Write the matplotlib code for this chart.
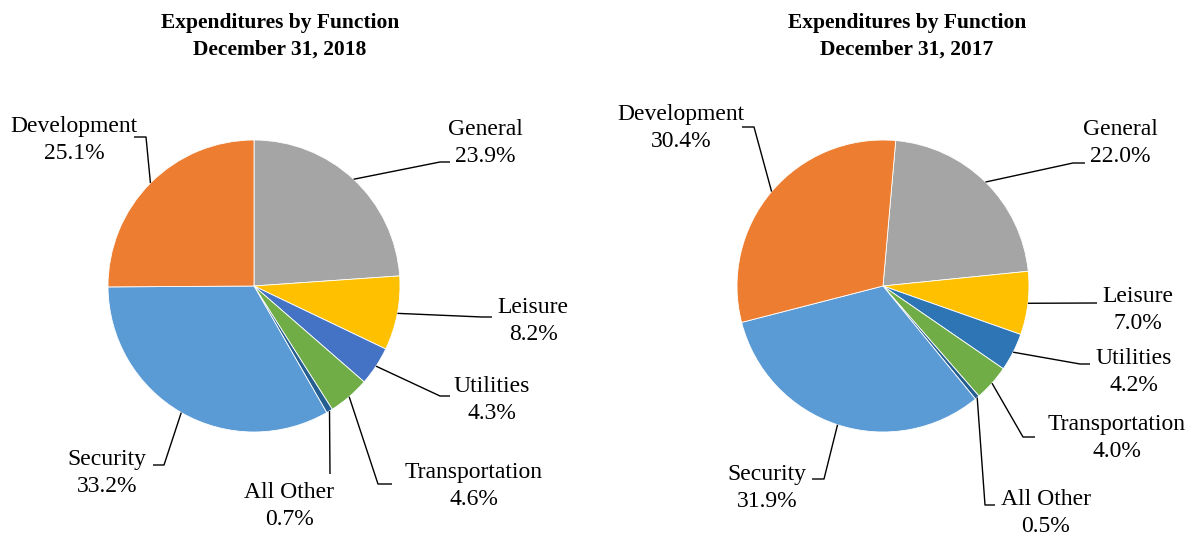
import numpy as np
import matplotlib
matplotlib.use('Agg')
from matplotlib import pyplot as plt

# data
functions = ['General', 'Leisure', 'Utilities', 'Transportation', 'All Other', 'Security', 'Development']
share_2018 = [23.9, 8.2, 4.3, 4.6, 0.7, 33.2, 25.1]
share_2017 = [22.0, 7.0, 4.2, 4.0, 0.5, 31.9, 30.4]
titles = ['Expenditures by Function\nDecember 31, 2018', 'Expenditures by Function\nDecember 31, 2017']

colors_2018 = ['#A5A5A5', '#FFC000', '#4472C4', '#70AD47', '#255E91', '#5B9BD5', '#ED7D31']
colors_2017 = ['#A5A5A5', '#FFC000', '#2E75B6', '#70AD47', '#255E91', '#5B9BD5', '#ED7D31']

W, H = 1199, 536
plt.rcParams['font.family'] = ['Liberation Serif', 'DejaVu Serif']

fig = plt.figure(figsize=(W / 100, H / 100), dpi=100)
ax = fig.add_axes([0, 0, 1, 1])

def Y(y):
    # pixel row -> data y
    return H - y

# layout in pixels (y measured from the top)
pies = [
    dict(values=share_2018, colors=colors_2018, cx=254, cy=286, r=146, start=90,
         title_x=280, title_y=(28, 55),
         label_x=[485, 533, 492, 474, 289, 107, 74],
         label_y=[135, 313, 392, 478, 498, 465, 132],
         leader=[[(440, 162), (450, 162)],
                 [(482, 317), (492, 317)],
                 [(440, 396), (450, 396)],
                 [(378, 484), (392, 484)],
                 [(330, 474)],
                 [(164, 465), (153, 465)],
                 [(146, 137), (134, 137)]]),
    dict(values=share_2017, colors=colors_2017, cx=883, cy=286, r=146, start=85,
         title_x=907, title_y=(28, 55),
         label_x=[1120, 1138, 1134, 1117, 1046, 767, 681],
         label_y=[135, 302, 364, 430, 505, 480, 120],
         leader=[[(1073, 163), (1085, 163)],
                 [(1097, 303)],
                 [(1080, 364), (1090, 364)],
                 [(1023, 437), (1035, 437)],
                 [(985, 505), (995, 505)],
                 [(824, 479), (812, 479)],
                 [(754, 127), (742, 127)]]),
]

for p, title in zip(pies, titles):
    ax.pie(p['values'], colors=p['colors'], startangle=p['start'], counterclock=False,
           center=(p['cx'], Y(p['cy'])), radius=p['r'],
           wedgeprops=dict(edgecolor='white', linewidth=0.6))

    # labels with leader lines from the middle of each wedge
    cum = np.cumsum([0] + p['values'][:-1])
    for i, v in enumerate(p['values']):
        mid = np.deg2rad(p['start'] - (cum[i] + v / 2) / 100 * 360)
        x0 = p['cx'] + p['r'] * np.cos(mid)
        y0 = p['cy'] - p['r'] * np.sin(mid)
        xs = [x0] + [pt[0] for pt in p['leader'][i]]
        ys = [Y(y0)] + [Y(pt[1]) for pt in p['leader'][i]]
        ax.plot(xs, ys, color='black', lw=1.0, solid_capstyle='butt')

        ax.text(p['label_x'][i], Y(p['label_y'][i]), functions[i],
                ha='center', va='baseline', fontsize=17)
        ax.text(p['label_x'][i], Y(p['label_y'][i] + 27), '%.1f%%' % v,
                ha='center', va='baseline', fontsize=17)

    line1, line2 = title.split('\n')
    ax.text(p['title_x'], Y(p['title_y'][0]), line1, ha='center', va='baseline',
            fontsize=15.5, weight='bold')
    ax.text(p['title_x'], Y(p['title_y'][1]), line2, ha='center', va='baseline',
            fontsize=15.5, weight='bold')

ax.set_xlim(0, W)
ax.set_ylim(0, H)
ax.axis('off')

fig.savefig('out.png', dpi=100, facecolor='white')
